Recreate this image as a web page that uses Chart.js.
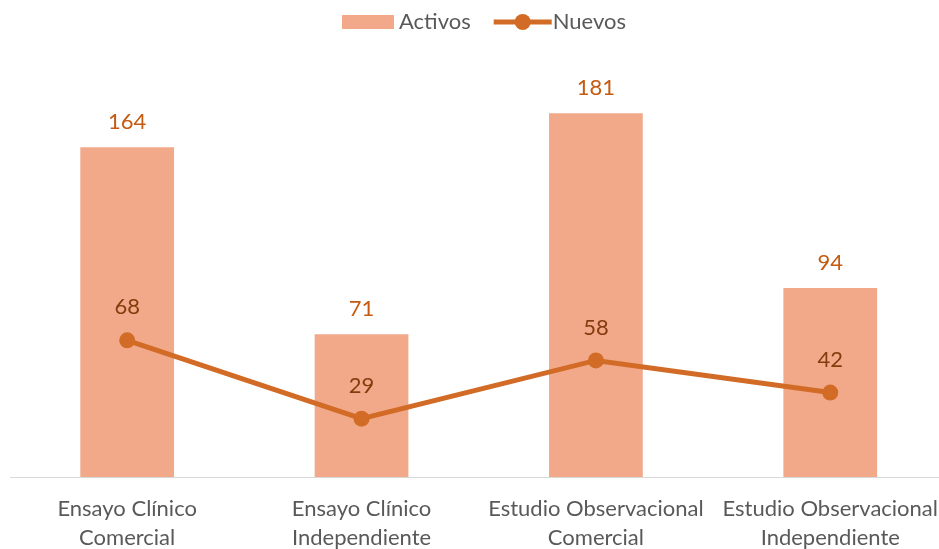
<!DOCTYPE html>
<html>
<head>
<meta charset="utf-8">
<script src="https://cdn.jsdelivr.net/npm/chart.js@4.4.0/dist/chart.umd.min.js"></script>
<style>
  html, body { margin: 0; padding: 0; background: #fff; overflow: hidden; }
  #wrap { width: 956px; height: 549px; }
</style>
</head>
<body>
<div id="wrap"><canvas id="chart"></canvas></div>
<script>
const categories = [
  ['Ensayo Clínico', 'Comercial'],
  ['Ensayo Clínico', 'Independiente'],
  ['Estudio Observacional', 'Comercial'],
  ['Estudio Observacional', 'Independiente']
];
const seriesNames = ['Activos', 'Nuevos'];
const activos = [164, 71, 181, 94];
const nuevos = [68, 29, 58, 42];

const barColor = '#F2A98A';
const lineColor = '#D26B26';
const textColor = '#595959';
const fontFamily = 'Lato, "Open Sans", sans-serif';
const fontSize = 22;

// etiquetas de valores y leyenda dibujada a mano
const valueLabels = {
  id: 'valueLabels',
  afterDatasetsDraw(chart) {
    const ctx = chart.ctx;
    ctx.save();
    ctx.font = fontSize + 'px ' + fontFamily;
    ctx.textAlign = 'center';
    ctx.textBaseline = 'middle';
    chart.getDatasetMeta(0).data.forEach((bar, i) => {
      ctx.fillStyle = '#C55A11';
      ctx.fillText(activos[i], bar.x, bar.y - 25);
    });
    chart.getDatasetMeta(1).data.forEach((pt, i) => {
      ctx.fillStyle = '#843C0C';
      ctx.fillText(nuevos[i], pt.x, pt.y - 33);
    });
    ctx.restore();
  },
  afterDraw(chart) {
    const ctx = chart.ctx;
    const cy = 22;
    let x = 342;
    ctx.save();
    ctx.font = fontSize + 'px ' + fontFamily;
    ctx.textBaseline = 'middle';
    ctx.textAlign = 'left';
    // Activos
    ctx.fillStyle = barColor;
    ctx.fillRect(x, cy - 7, 52, 14);
    x += 57;
    ctx.fillStyle = textColor;
    ctx.fillText(seriesNames[0], x, cy);
    x += ctx.measureText(seriesNames[0]).width + 23;
    // Nuevos
    ctx.strokeStyle = lineColor;
    ctx.lineWidth = 5;
    ctx.beginPath();
    ctx.moveTo(x, cy);
    ctx.lineTo(x + 58, cy);
    ctx.stroke();
    ctx.fillStyle = lineColor;
    ctx.beginPath();
    ctx.arc(x + 29, cy, 8, 0, Math.PI * 2);
    ctx.fill();
    ctx.fillStyle = textColor;
    ctx.fillText(seriesNames[1], x + 59, cy);
    ctx.restore();
  }
};

new Chart(document.getElementById('chart'), {
  data: {
    labels: categories,
    datasets: [
      {
        type: 'bar',
        label: seriesNames[0],
        data: activos,
        backgroundColor: barColor,
        categoryPercentage: 1,
        barPercentage: 0.4,
        order: 2
      },
      {
        type: 'line',
        label: seriesNames[1],
        data: nuevos,
        borderColor: lineColor,
        backgroundColor: lineColor,
        borderWidth: 5,
        pointRadius: 8,
        pointHoverRadius: 8,
        pointBackgroundColor: lineColor,
        pointBorderWidth: 0,
        tension: 0,
        order: 1
      }
    ]
  },
  options: {
    responsive: true,
    maintainAspectRatio: false,
    animation: false,
    layout: { padding: { left: 10, right: 0, top: 75, bottom: 0 } },
    plugins: {
      tooltip: { enabled: false },
      legend: { display: false }
    },
    scales: {
      x: {
        grid: { display: false, drawTicks: false },
        border: { display: true, color: '#D9D9D9', width: 1 },
        afterFit(scale) { scale.height = 72; },
        ticks: {
          color: textColor,
          padding: 17,
          maxRotation: 0,
          autoSkip: false,
          font: { family: fontFamily, size: fontSize, lineHeight: '29px' }
        }
      },
      y: {
        display: false,
        min: 0,
        max: 200
      }
    }
  },
  plugins: [valueLabels]
});
</script>
</body>
</html>
